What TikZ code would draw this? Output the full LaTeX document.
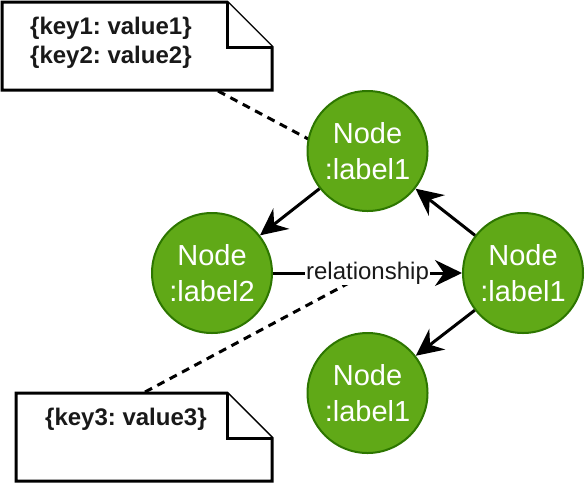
\documentclass[tikz,border=0pt]{standalone}
\usepackage{fontspec}
\setmainfont{Liberation Sans}
\usetikzlibrary{arrows.meta}
\definecolor{nodefill}{HTML}{60A917}
\definecolor{nodeline}{HTML}{2D7600}
\frenchspacing
\tikzset{
  gnode/.style={circle, fill=nodefill, draw=nodeline, line width=2pt, minimum size=120pt, inner sep=0pt,
    text=white, align=center, font=\fontsize{29}{36}\selectfont},
  notebox/.style={draw=black, line width=3pt, fill=white, line join=miter},
  notetext/.style={font=\bfseries\fontsize{24}{28.5}\selectfont, align=left, inner sep=0pt, text=black!90},
  rel/.style={line width=3pt, -{Stealth[length=27pt, width=26pt, inset=9pt]}},
  dashline/.style={line width=3pt, dash pattern=on 8pt off 6pt},
  rellabel/.style={fill=white, inner sep=1pt, font=\fontsize{24}{28}\selectfont, text=black!90}
}
\begin{document}
\frenchspacing
\begin{tikzpicture}[x=1pt, y=-1pt]
\useasboundingbox (0,0) rectangle (585,483);
% notes
\draw[notebox] (2,2) -- (227,2) -- (272,47) -- (272,90) -- (2,90) -- cycle;
\draw[notebox] (227,2) -- (227,47) -- (272,47);
\node[notetext, anchor=north west] (note1) at (30,17) {\{key1: value1\}\\\{key2: value2\}};
\draw[notebox] (16,393) -- (227,393) -- (272,438) -- (272,481) -- (16,481) -- cycle;
\draw[notebox] (227,393) -- (227,438) -- (272,438);
\node[notetext, anchor=north west] (note2) at (45,408) {\{key3: value3\}};
\coordinate (n1a) at (218,91);
\coordinate (n1b) at (312,141);
\coordinate (n2a) at (145,392);
% graph nodes
\coordinate (p1) at (367.5,151);
\coordinate (p2) at (212,273);
\coordinate (p3) at (523,273);
\coordinate (p4) at (367.5,393);
\path (p2) -- (p3) coordinate[midway] (rmid);
\draw[dashline] (n1a) -- (n1b);
\draw[dashline] (n2a) -- (rmid);
\node[gnode] (c1) at (p1) {Node\\:label1};
\node[gnode] (c2) at (p2) {Node\\:label2};
\node[gnode] (c3) at (p3) {Node\\:label1};
\node[gnode] (c4) at (p4) {Node\\:label1};
\draw[rel] (c1) -- (c2);
\draw[rel] (c3) -- (c1);
\draw[rel] (c3) -- (c4);
\draw[rel] (c2) -- node[rellabel] (rl) {relationship} (c3);
\end{tikzpicture}
\end{document}
